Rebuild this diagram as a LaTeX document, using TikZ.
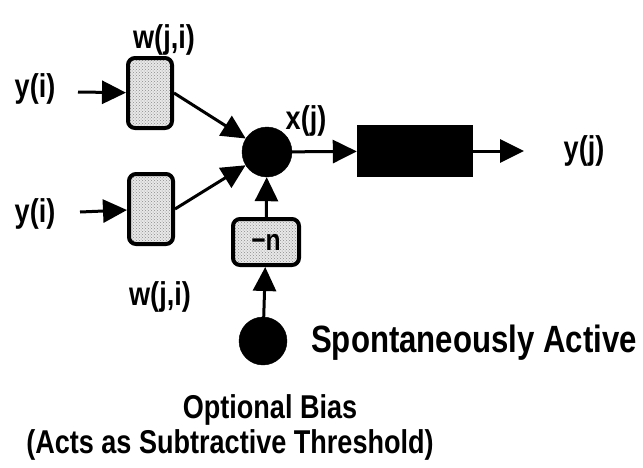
\documentclass[tikz,border=0pt]{standalone}
\usepackage{fontspec}
\setmainfont{Liberation Sans}
\newfontfamily\lblfont[FakeStretch=0.82]{Liberation Sans}
\usetikzlibrary{arrows.meta, positioning, calc, patterns}
\definecolor{wgray}{RGB}{232,232,232}

\begin{document}
\begin{tikzpicture}[
        x=1pt, y=-1pt,
        lbl/.style={font=\lblfont\fontsize{33}{36}\selectfont\bfseries, inner sep=0pt},
        wbox/.style={rectangle, draw=black, line width=4pt, preaction={fill=wgray}, pattern=crosshatch dots, pattern color=black!45, rounded corners=7pt, minimum width=44pt, minimum height=70pt},
        dot/.style={circle, fill=black, draw=black, inner sep=0pt},
        arr/.style={-{Triangle[length=24pt, width=23pt]}, line width=3pt}
    ]
        \useasboundingbox (0,0) rectangle (643,467);

        % weights
        \node[wbox] (w1) at (150,93) {};
        \node[wbox] (w2) at (151,209) {};
        \node[lbl] (wtop) at (164,40) {w(j,i)};
        \node[lbl] (wbot) at (160,297) {w(j,i)};

        % inputs
        \node[lbl] (yi1) at (35,89) {y(i)};
        \node[lbl] (yi2) at (35,214) {y(i)};
        \coordinate (in1) at (78,92);
        \coordinate (in2) at (80,212);

        % summing node and activation
        \node[dot, minimum size=50pt] (sum) at (267,152) {};
        \node[lbl] (xj) at (306,121) {x(j)};
        \node[rectangle, fill=black, minimum width=116pt, minimum height=52pt] (act) at (415,151) {};
        \node[lbl] (yj) at (584,151) {y(j)};
        \coordinate (out) at (524,151);

        % bias
        \node[wbox, minimum width=66pt, minimum height=46pt, text opacity=1, font=\lblfont\fontsize{30}{32}\selectfont\bfseries] (theta) at (266,242) {−n};
        \node[dot, minimum size=48pt] (bias) at (263,341) {};
        \node[lbl, font=\lblfont\fontsize{38}{40}\selectfont\bfseries, anchor=west] (spont) at (311,343) {Spontaneously Active};
        \node[lbl] (opt) at (270,410) {Optional Bias};
        \node[lbl] (acts) at (230,445) {(Acts as Subtractive Threshold)};

        \draw[arr] (in1) -- (w1);
        \draw[arr] (in2) -- (w2);
        \draw[arr] (w1.east) -- (sum);
        \draw[arr] (w2.east) -- (sum);
        \draw[arr] (sum) -- (act);
        \draw[arr] (act) -- (out);
        \draw[arr] (theta) -- (sum);
        \draw[arr] (bias) -- (theta);
    \end{tikzpicture}
\end{document}
